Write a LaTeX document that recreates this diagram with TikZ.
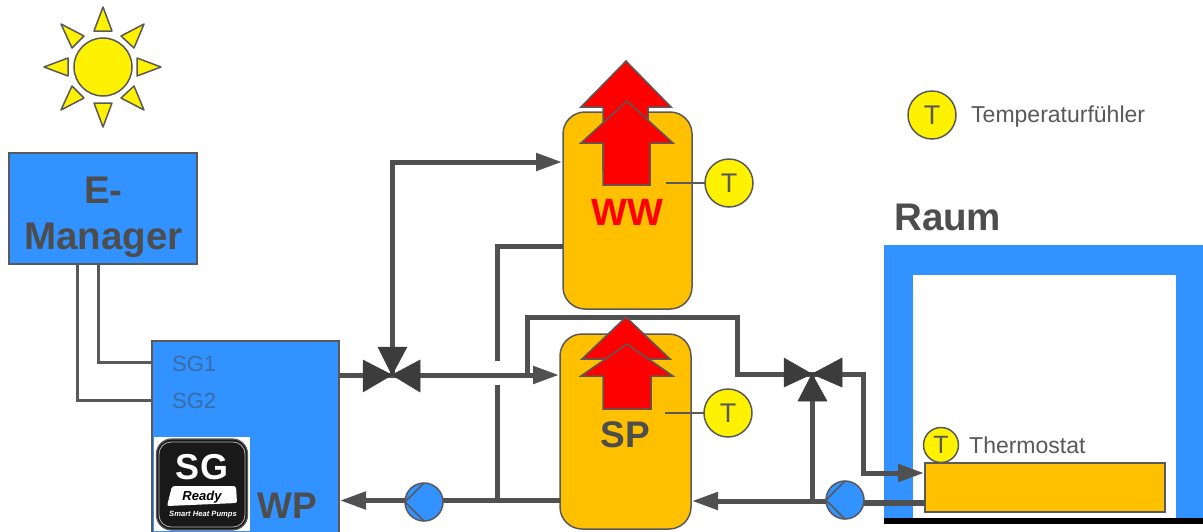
\documentclass[tikz,border=0pt]{standalone}
\usepackage{fontspec}
\setmainfont{Liberation Sans}
\usetikzlibrary{arrows.meta,calc}
\definecolor{bluef}{HTML}{3292FF}
\definecolor{tankf}{HTML}{FFC000}
\definecolor{edgec}{HTML}{595959}
\definecolor{pipec}{HTML}{505050}
\definecolor{valvec}{HTML}{3C3C3C}
\definecolor{txtc}{HTML}{4D4D4D}
\definecolor{sgc}{HTML}{3A6CA6}
\newcommand{\fs}[1]{\fontsize{#1}{#1}\selectfont}
\tikzset{
  boxn/.style={draw=edgec,line width=1.5pt,fill=bluef,inner sep=0pt,outer sep=0pt},
  tank/.style={draw=edgec,line width=1.5pt,fill=tankf,rounded corners=22pt,inner sep=0pt,outer sep=0pt},
  sensor/.style={circle,draw=edgec,line width=1.5pt,fill=yellow,inner sep=0pt,outer sep=0pt,minimum size=48pt,text=edgec,font=\fs{27}},
  pump/.style={circle,draw=edgec,line width=1.5pt,fill=bluef,inner sep=0pt,outer sep=0pt,minimum size=38pt},
  pipe/.style={draw=pipec,line width=5pt},
  wire/.style={draw=edgec,line width=3pt},
  flow/.style={pipe,-{Triangle[length=26pt,width=17pt,sep=0pt]}},
  thin link/.style={draw=edgec,line width=1.5pt},
  valvetri/.style={fill=valvec,draw=valvec,line width=.5pt,line join=miter},
  hot/.style={fill=red,draw=edgec,line width=1.5pt,line join=miter},
  sunray/.style={fill=yellow,draw=edgec,line width=1.5pt,line join=round},
  bigtxt/.style={text=txtc,font=\bfseries\fs{38},inner sep=0pt},
  smalltxt/.style={text=edgec,font=\fs{23},inner sep=0pt,anchor=base west},
}
\begin{document}
\begin{tikzpicture}[x=1pt,y=-1pt]
\clip (0,0) rectangle (1203,531);
\fill[white] (0,0) rectangle (1203,531);
% sun
\node[circle,draw=edgec,line width=1.5pt,fill=yellow,minimum size=58pt,inner sep=0pt] (sun) at (103,67) {};
\draw[sunray] (103,7) -- (94,31) -- (112,31) -- cycle;
\draw[sunray] (103,127) -- (94,103) -- (112,103) -- cycle;
\draw[sunray] (44,67) -- (68,58) -- (68,76) -- cycle;
\draw[sunray] (161,67) -- (137,58) -- (137,76) -- cycle;
\draw[sunray] (144,24) -- (121,36) -- (134,48) -- cycle;
\draw[sunray] (61,24) -- (84,36) -- (72,48) -- cycle;
\draw[sunray] (61,110) -- (72,86) -- (84,98) -- cycle;
\draw[sunray] (144,110) -- (134,86) -- (121,98) -- cycle;
% room
\fill[bluef] (884,245) rectangle (1203,518);
\fill[white] (913,275) rectangle (1176,518);
\fill[black] (884,518) rectangle (1203,524);
\node[bigtxt,anchor=base west,font=\bfseries\fs{38.5}] (raum) at (894,230) {Raum};
% boxes
\node[boxn,minimum width=188pt,minimum height=111pt] (em) at (103,208.5) {};
\node[boxn,minimum width=187pt,minimum height=210pt] (wp) at (245.5,446) {};
\node[tank,minimum width=129pt,minimum height=197pt] (ww) at (627.5,210.5) {};
\node[tank,minimum width=131pt,minimum height=195pt] (sp) at (625.5,431.5) {};
\node[draw=edgec,line width=1.5pt,fill=tankf,inner sep=0pt,outer sep=0pt,minimum width=240pt,minimum height=49pt] (th) at (1045,487.5) {};
\node[bigtxt,align=center,font=\bfseries\fontsize{38.5}{46}\selectfont] (emt) at (103.5,217) {E-\\Manager};
% connection points
\coordinate (v1) at (392,375);
\coordinate (v2) at (812,374);
\coordinate (wwIn) at (562,162);
\coordinate (wwOut) at (563,246);
\coordinate (wwDrop) at (497,500.5);
\coordinate (spIn) at (559,375);
\coordinate (spOut) at (560,500.5);
\coordinate (wpOut) at (339,375);
\coordinate (wpIn) at (340,500.5);
\coordinate (hot) at (527,375);
\coordinate (spRet) at (692,501);
\coordinate (thIn) at (924,473);
\coordinate (thOut) at (925,503);
\coordinate (j2) at (812,501);
\coordinate (w1) at (98,264);
\coordinate (w2) at (77,264);
\coordinate (sg1) at (152,362);
\coordinate (sg2) at (152,400);
% wires
\draw[wire] (w1) |- (sg1);
\draw[wire] (w2) |- (sg2);
% pipes
\draw[pipe] (wpOut) -- (v1);
\draw[flow] (v1) |- (wwIn);
\draw[pipe] (wwOut) -| (wwDrop);
\fill[white] (486,361) rectangle (507,385);
\draw[flow] (v1) -- (spIn);
\draw[flow] (spOut) -- (wpIn);
\draw[pipe] (hot) |- (737,317) |- (v2);
\draw[flow] (v2) -| (863,473) -- (thIn);
\draw[pipe] (j2) -- (v2);
\draw[flow] (j2) -- (spRet);
\draw[pipe] (j2) -- (845,501);
\draw[draw=pipec,line width=6pt] (thOut) -- (845,503);
% valves
\draw[valvetri] (v1) -- (363,360) -- (363,392) -- cycle;
\draw[valvetri] (v1) -- (420,360) -- (420,392) -- cycle;
\draw[valvetri] (v1) -- (378,347) -- (407,347) -- cycle;
\draw[valvetri] (v2) -- (784,358) -- (784,387) -- cycle;
\draw[valvetri] (v2) -- (842,358) -- (842,387) -- cycle;
\draw[valvetri] (v2) -- (798,401) -- (827,401) -- cycle;
% pumps
\node[pump] (p1) at (424,502) {};
\draw[thin link] (p1.north) -- (p1.west) -- (p1.south);
\node[pump] (p2) at (845,500) {};
\draw[thin link] (p2.north) -- (p2.west) -- (p2.south);
% arrows WW
\draw[hot] (626,61) -- (671,107) -- (648,107) -- (648,170) -- (603,170) -- (603,107) -- (581,107) -- cycle;
\draw[hot] (627,101) -- (673,143) -- (650,143) -- (650,185) -- (603,185) -- (603,143) -- (581,143) -- cycle;
% arrows SP
\draw[hot] (626,317) -- (670,359) -- (582,359) -- cycle;
\draw[hot] (627,344) -- (673,376) -- (651,376) -- (651,409) -- (603,409) -- (603,376) -- (581,376) -- cycle;
% tank labels
\node[bigtxt,text=red,anchor=base] (wwt) at (627,225) {WW};
\node[bigtxt,anchor=base,font=\bfseries\fs{37}] (spt) at (625,447) {SP};
\node[bigtxt,anchor=base,font=\bfseries\fs{37}] (wpt) at (287,518) {WP};
% sensors
\node[sensor] (t1) at (729,183) {T};
\coordinate (t1a) at (666,183);
\draw[thin link] (t1a) -- (t1);
\node[sensor] (t2) at (728,413) {T};
\coordinate (t2a) at (665,413);
\draw[thin link] (t2a) -- (t2);
\node[sensor] (t3) at (932,115) {T};
\node[sensor,minimum size=35pt,font=\fs{25}] (t4) at (941,445) {T};
\node[smalltxt] (tf) at (971,122) {Temperaturfühler};
\node[smalltxt] (tt) at (969,453) {Thermostat};
\node[smalltxt,text=sgc,font=\fs{22}] (s1) at (172,371) {SG1};
\node[smalltxt,text=sgc,font=\fs{22}] (s2) at (172,408) {SG2};
% logo
\fill[white] (154,437) rectangle (250,531);
\node[draw=edgec,line width=1.2pt,fill=black!90,rounded corners=15pt,inner sep=0pt,minimum width=91pt,minimum height=91pt] (logo) at (202,484.5) {};
\draw[white!70!black,line width=.8pt,rounded corners=12pt] (159,442) rectangle (245,527);
\fill[white,rounded corners=2pt] (172,486) -- (236,486) -- (237,503) -- (167,506) -- cycle;
\node[text=white,font=\bfseries\fs{36},inner sep=0pt,anchor=base] (sgt) at (202,479) {SG};
\node[text=black,font=\bfseries\itshape\fs{13},inner sep=0pt,anchor=base] (rdy) at (202,500.5) {Ready};
\node[text=white,font=\bfseries\itshape\fs{7.6},inner sep=0pt,anchor=base] (smt) at (203,516) {Smart Heat Pumps};
\end{tikzpicture}
\end{document}
